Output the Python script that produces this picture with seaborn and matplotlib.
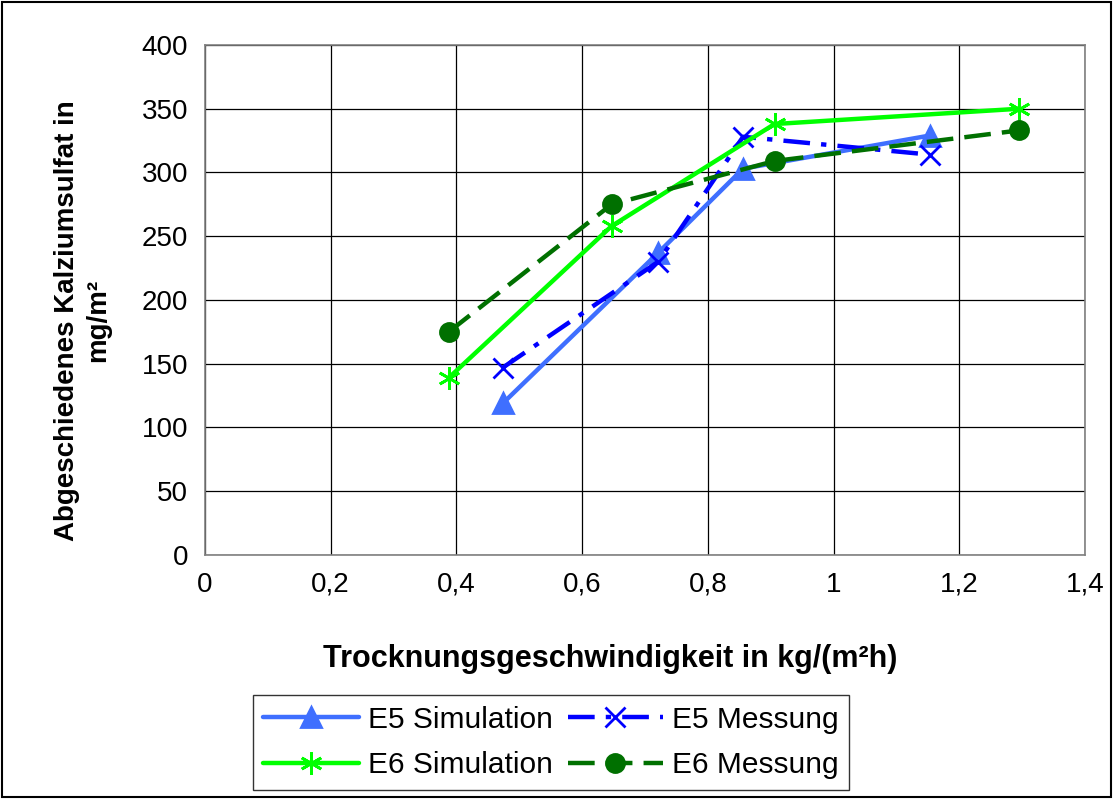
import matplotlib
matplotlib.use("Agg")
import matplotlib.pyplot as plt
import seaborn as sns
import pandas as pd
from matplotlib.patches import Rectangle

# Data
e5_sim_x = [0.474, 0.721, 0.856, 1.153]
e5_sim_y = [119, 237, 303, 329]
e5_mes_x = [0.474, 0.721, 0.856, 1.153]
e5_mes_y = [147, 230, 328, 314]
e6_sim_x = [0.388, 0.647, 0.906, 1.295]
e6_sim_y = [139, 258, 338, 350]
e6_mes_x = [0.388, 0.647, 0.906, 1.295]
e6_mes_y = [175, 275, 309, 333]

xticks = [0, 0.2, 0.4, 0.6, 0.8, 1.0, 1.2, 1.4]
xticklabels = ["0", "0,2", "0,4", "0,6", "0,8", "1", "1,2", "1,4"]
yticks = [0, 50, 100, 150, 200, 250, 300, 350, 400]

sns.set_style("white")
plt.rcParams['font.family'] = ['Liberation Sans', 'DejaVu Sans']
plt.rcParams['text.color'] = 'black'
plt.rcParams['axes.labelcolor'] = 'black'
plt.rcParams['xtick.labelcolor'] = 'black'
plt.rcParams['ytick.labelcolor'] = 'black'

fig = plt.figure(figsize=(11.13, 7.99), dpi=100)
ax = fig.add_axes([0.184, 0.3054, 0.791, 0.6383])

series = [
    ("E5 Simulation", e5_sim_x, e5_sim_y, "#3F6FFF", "-", "^", 14),
    ("E5 Messung", e5_mes_x, e5_mes_y, "#0000FF", (0, (6, 2.5, 1.2, 2.5)), "x", 14),
    ("E6 Simulation", e6_sim_x, e6_sim_y, "#00FF00", "-", (6, 2, 0), 16),
    ("E6 Messung", e6_mes_x, e6_mes_y, "#007000", (0, (6, 2.5)), "o", 13),
]

for name, xs, ys, col, ls, mk, ms in series:
    df = pd.DataFrame({"x": xs, "y": ys})
    sns.lineplot(data=df, x="x", y="y", ax=ax, color=col, linestyle=ls,
                 linewidth=3.2, marker=mk, markersize=ms, markeredgecolor=col,
                 markerfacecolor=col, markeredgewidth=2, sort=False, label=name,
                 legend=False)

ax.set_xlim(0, 1.4)
ax.set_ylim(0, 400)
ax.set_xticks(xticks)
ax.set_xticklabels(xticklabels)
ax.set_yticks(yticks)
ax.tick_params(axis='both', labelsize=20, direction='out', length=6, width=1,
               color='#808080', pad=6, labelcolor='black')
ax.grid(True, color='black', linewidth=0.9)
for s in ax.spines.values():
    s.set_color('#808080')
    s.set_linewidth(1.2)

ax.set_xlabel("Trocknungsgeschwindigkeit in kg/(m²h)", fontsize=22,
              fontweight='bold', labelpad=26, color='black')
ax.xaxis.set_label_coords(0.46, -0.175)
ax.set_ylabel("Abgeschiedenes Kalziumsulfat in\nmg/m²", fontsize=20,
              fontweight='bold', color='black', linespacing=1.25)
ax.yaxis.set_label_coords(-0.106, 0.46)

h, l = ax.get_legend_handles_labels()
order = [0, 2, 1, 3]
leg = fig.legend([h[i] for i in order], [l[i] for i in order], loc='center',
                 bbox_to_anchor=(0.495, 0.0707), ncol=2,
                 fontsize=21.5, frameon=True, fancybox=False, edgecolor='black',
                 handlelength=3.2, columnspacing=0.5, handletextpad=0.3,
                 borderpad=0.35, labelspacing=0.6, borderaxespad=0)
leg.get_frame().set_linewidth(1.0)

fig.patches.append(Rectangle((0.002, 0.002), 0.996, 0.996, transform=fig.transFigure,
                             fill=False, edgecolor='black', linewidth=1.5))

fig.savefig("out.png", dpi=100)
